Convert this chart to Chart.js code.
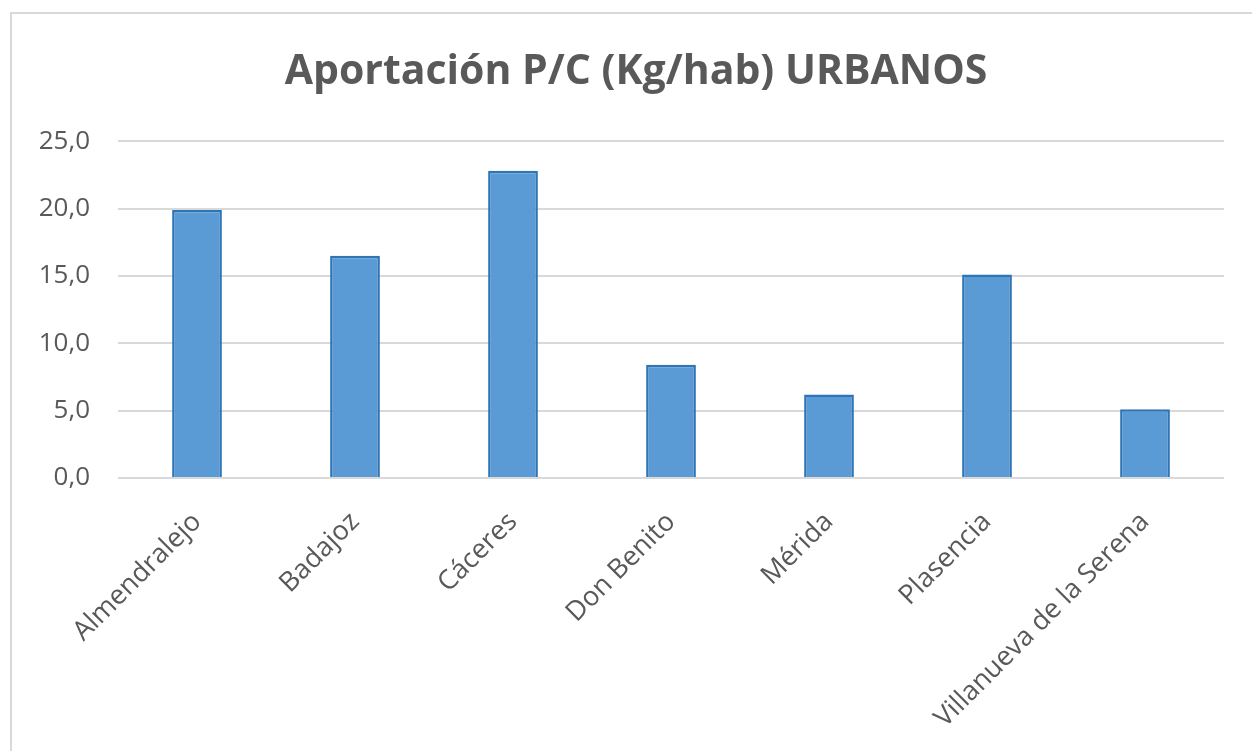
<!DOCTYPE html>
<html>
<head>
<meta charset="utf-8">
<script src="https://cdn.jsdelivr.net/npm/chart.js@4"></script>
<style>
  html, body { margin: 0; padding: 0; background: #fff; overflow: hidden; }
  #frame { position: absolute; left: 10px; top: 12px; width: 1300px; height: 800px; border: 2px solid #d9d9d9; box-sizing: border-box; }
  #wrap { position: absolute; left: 0; top: 0; width: 1252px; height: 751px; }
</style>
</head>
<body>
<div id="frame"></div>
<div id="wrap"><canvas id="c" width="1252" height="751"></canvas></div>
<script>
const title = 'Aportación P/C (Kg/hab) URBANOS';
const categories = ['Almendralejo', 'Badajoz', 'Cáceres', 'Don Benito', 'Mérida', 'Plasencia', 'Villanueva de la Serena'];
const values = [19.9, 16.5, 22.8, 8.4, 6.2, 15.1, 5.1];
const yTicks = [0, 5, 10, 15, 20, 25];

const textColor = '#595959';

// shift the title box so it is centred on the whole frame
const titleShift = {
  id: 'titleShift',
  afterLayout(chart) {
    if (chart.titleBlock) {
      chart.titleBlock.left = 48;
    }
  }
};

new Chart(document.getElementById('c'), {
  type: 'bar',
  data: {
    labels: categories,
    datasets: [{
      data: values,
      backgroundColor: '#5B9BD5',
      borderColor: '#2E75B6',
      borderWidth: 2.5,
      barPercentage: 0.315,
      categoryPercentage: 1
    }]
  },
  options: {
    responsive: false,
    animation: false,
    layout: { padding: { top: 0, right: 28, bottom: 0, left: 0 } },
    plugins: {
      legend: { display: false },
      tooltip: { enabled: false },
      title: {
        display: true,
        text: title,
        color: textColor,
        font: { family: 'Open Sans', size: 41, weight: 'bold', lineHeight: 1.2 },
        padding: { top: 48, bottom: 44 }
      }
    },
    scales: {
      x: {
        grid: { display: false },
        border: { display: false },
        ticks: {
          color: textColor,
          font: { family: 'Open Sans', size: 27 },
          minRotation: 45,
          maxRotation: 45,
          padding: 20
        },
        afterFit: (s) => { s.height = 751 - 478; }
      },
      y: {
        min: yTicks[0],
        max: yTicks[yTicks.length - 1],
        afterBuildTicks: (s) => { s.ticks = yTicks.map(v => ({ value: v })); },
        grid: { color: '#d9d9d9', lineWidth: 2, drawTicks: false },
        border: { display: false },
        ticks: {
          color: textColor,
          font: { family: 'Open Sans', size: 26 },
          padding: 28,
          callback: (v) => Number(v).toFixed(1).replace('.', ',')
        },
        afterFit: (s) => { s.width = 118; }
      }
    }
  },
  plugins: [titleShift]
});
</script>
</body>
</html>
